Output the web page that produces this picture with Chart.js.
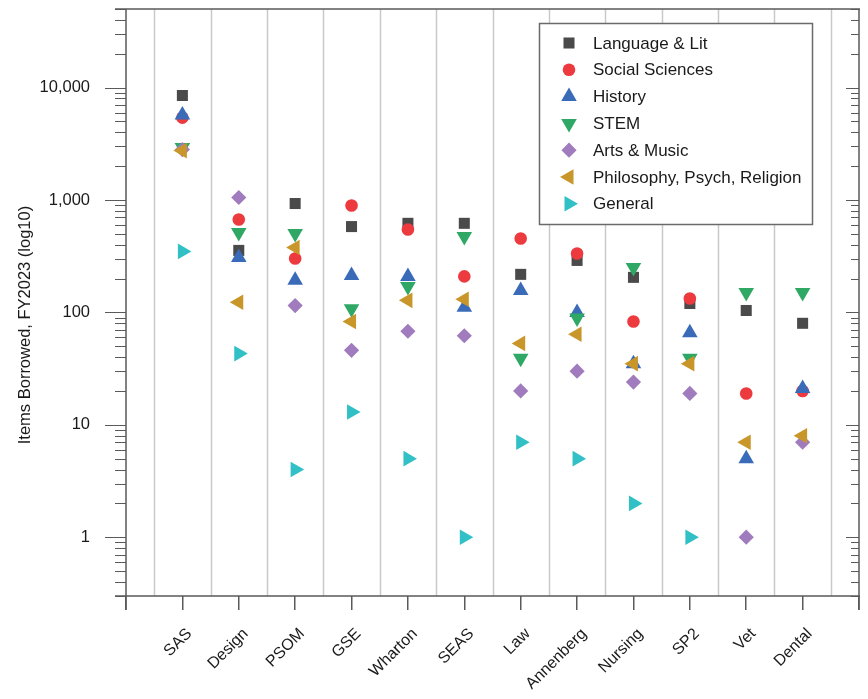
<!DOCTYPE html>
<html>
<head>
<meta charset="utf-8">
<title>Items Borrowed, FY2023</title>
<script src="https://cdn.jsdelivr.net/npm/chart.js@4.4.1/dist/chart.umd.min.js"></script>
<style>
    body { margin: 0; background: #fff; }
    #wrap { width: 868px; height: 699px; }
</style>
</head>
<body>
<div id="wrap"><canvas id="myChart" width="868" height="699"></canvas></div>
<script>
// schools along the x axis
var categories = ['SAS', 'Design', 'PSOM', 'GSE', 'Wharton', 'SEAS', 'Law', 'Annenberg', 'Nursing', 'SP2', 'Vet', 'Dental'];

// items borrowed per subject, one value per school (null = nothing plotted)
var langLit     = [8500, 356, 930, 580, 620, 620, 218, 290, 205, 120, 104, 80];
var socialSci   = [5400, 670, 302, 894, 547, 209, 455, 334, 83, 133, 19, 20];
var historyVals = [5700, 308, 193, 213, 209, 111, 157, 100, 35, 66, 5, 21];
var stem        = [2930, 514, 504, 108, 170, 474, 39, 89, 251, 39, 150, 150];
var artsMusic   = [2810, 1052, 115, 46, 68, 62, 20, 30, 24, 19, 1, 7];
var philosophy  = [2750, 123, 378, 83, 128, 131, 53, 64, 35, 35, 7, 8];
var general     = [349, 43, 4, 13, 5, 1, 7, 5, 2, 1, null, null];

// y axis labelled ticks
var yMajorTicks = [1, 10, 100, 1000, 10000];
var yTickLabels = ['1', '10', '100', '1,000', '10,000'];

var FONT = 'Arial, "Liberation Sans", sans-serif';
var AXIS_COLOR = '#5a5a5a';

var series = [
    { label: 'Language & Lit', data: langLit, color: '#4a4a4a', style: 'rect', radius: 7.8, rotation: 0 },
    { label: 'Social Sciences', data: socialSci, color: '#ec3a3f', style: 'circle', radius: 6.3, rotation: 0 },
    { label: 'History', data: historyVals, color: '#3a6bb8', style: 'triangle', radius: 9, rotation: 0 },
    { label: 'STEM', data: stem, color: '#2fa866', style: 'triangle', radius: 9, rotation: 180 },
    { label: 'Arts & Music', data: artsMusic, color: '#a07cbe', style: 'rectRot', radius: 7.6, rotation: 0 },
    { label: 'Philosophy, Psych, Religion', data: philosophy, color: '#c9962a', style: 'triangle', radius: 9, rotation: -90 },
    { label: 'General', data: general, color: '#30c0c5', style: 'triangle', radius: 9, rotation: 90 }
];

var datasets = series.map(function(s, k) {
    var pts = [];
    s.data.forEach(function(v, i) {
        if (v !== null) pts.push({ x: i + 1, y: v });
    });
    return {
        label: s.label,
        data: pts,
        order: series.length - k, // later series drawn on top
        pointStyle: s.style,
        pointRadius: s.radius,
        pointRotation: s.rotation,
        pointBackgroundColor: s.color,
        pointBorderWidth: 0,
        showLine: false
    };
});

// frame, mirrored ticks, in-between grid lines, y title and legend
var framePlugin = {
    id: 'frame',
    beforeDatasetsDraw: function(chart) {
        var ctx = chart.ctx, a = chart.chartArea;
        var x = chart.scales.x, y = chart.scales.y;
        ctx.save();

        // vertical separators between schools
        ctx.strokeStyle = '#c9c9c9';
        ctx.lineWidth = 1.5;
        for (var i = 0; i <= categories.length; i++) {
            var px = Math.round(x.getPixelForValue(i + 0.5)) + 0.5;
            ctx.beginPath();
            ctx.moveTo(px, a.top);
            ctx.lineTo(px, a.bottom);
            ctx.stroke();
        }

        // box
        ctx.strokeStyle = AXIS_COLOR;
        ctx.lineWidth = 1.5;
        ctx.beginPath();
        ctx.moveTo(a.left - 11, a.top); ctx.lineTo(a.right + 1, a.top);
        ctx.moveTo(a.left - 11, a.bottom); ctx.lineTo(a.right + 1, a.bottom);
        ctx.moveTo(a.left, a.top); ctx.lineTo(a.left, a.bottom + 14);
        ctx.moveTo(a.right, a.top); ctx.lineTo(a.right, a.bottom + 14);
        ctx.stroke();

        // log ticks, outward on the left, inward on the right
        ctx.lineWidth = 1.2;
        for (var e = -1; e <= 4; e++) {
            for (var m = 1; m <= 9; m++) {
                var v = m * Math.pow(10, e);
                if (v < y.min - 1e-9 || v > y.max + 1e-9) continue;
                var py = Math.round(y.getPixelForValue(v)) + 0.5;
                var major = m === 1;
                ctx.beginPath();
                ctx.moveTo(a.left - (major ? 21 : 11), py);
                ctx.lineTo(a.left, py);
                ctx.moveTo(a.right - (major ? 13 : 8), py);
                ctx.lineTo(a.right, py);
                ctx.stroke();
            }
        }

        // y axis title
        ctx.fillStyle = '#1a1a1a';
        ctx.font = '16.5px ' + FONT;
        ctx.textAlign = 'center';
        ctx.textBaseline = 'middle';
        ctx.translate(25, 325);
        ctx.rotate(-Math.PI / 2);
        ctx.fillText('Items Borrowed, FY2023 (log10)', 0, 0);
        ctx.restore();
    },
    afterDatasetsDraw: function(chart) {
        var ctx = chart.ctx;
        var lx = 539, ly = 23, lw = 273, lh = 201;
        ctx.save();
        ctx.fillStyle = '#fff';
        ctx.fillRect(lx, ly, lw, lh);
        ctx.strokeStyle = '#6a6a6a';
        ctx.lineWidth = 1.5;
        ctx.strokeRect(lx + 0.5, ly + 0.5, lw, lh);

        ctx.font = '17px ' + FONT;
        ctx.textAlign = 'left';
        ctx.textBaseline = 'middle';
        series.forEach(function(s, i) {
            var cy = ly + 20 + i * 26.8;
            ctx.fillStyle = s.color;
            Chart.helpers.drawPoint(ctx, {
                pointStyle: s.style, radius: s.radius, rotation: s.rotation, borderWidth: 0
            }, lx + 30, cy);
            ctx.fillStyle = '#1a1a1a';
            ctx.fillText(s.label, lx + 54, cy + 1);
        });
        ctx.restore();
    }
};

var ctx = document.getElementById('myChart').getContext('2d');
var chart = new Chart(ctx, {
    type: 'scatter',
    data: { datasets: datasets },
    plugins: [framePlugin],
    options: {
        responsive: false,
        animation: false,
        events: [],
        layout: { padding: { top: 9, right: 7, left: 0, bottom: 0 } },
        plugins: {
            legend: { display: false },
            tooltip: { enabled: false }
        },
        scales: {
            x: {
                type: 'linear',
                min: 0,
                max: categories.length + 1,
                afterBuildTicks: function(s) {
                    var t = [];
                    for (var i = 0; i <= categories.length + 1; i++) t.push({ value: i });
                    s.ticks = t;
                },
                afterFit: function(s) {
                    s.height = 103;
                    s.paddingLeft = 0;
                    s.paddingRight = 0;
                },
                ticks: {
                    autoSkip: false,
                    minRotation: 45,
                    maxRotation: 45,
                    padding: 21,
                    labelOffset: 7,
                    color: '#1a1a1a',
                    // tiny lineHeight keeps the rotated label's end right on its anchor
                    font: { family: FONT, size: 16, lineHeight: 0.05 },
                    callback: function(v) { return categories[v - 1] || ''; }
                },
                grid: { drawOnChartArea: false, drawTicks: true, tickLength: 14, color: AXIS_COLOR, lineWidth: 1.5 },
                border: { display: false }
            },
            y: {
                type: 'logarithmic',
                min: 0.3,
                max: 50000,
                afterBuildTicks: function(s) {
                    s.ticks = yMajorTicks.map(function(v) { return { value: v, major: true }; });
                },
                afterFit: function(s) {
                    s.width = 126;
                    s.paddingTop = 0;
                    s.paddingBottom = 0;
                },
                ticks: {
                    padding: 36,
                    color: '#1a1a1a',
                    font: { family: FONT, size: 16.5 },
                    callback: function(v) {
                        var k = yMajorTicks.indexOf(v);
                        return k >= 0 ? yTickLabels[k] : '';
                    }
                },
                grid: { display: false, drawTicks: false },
                border: { display: false }
            }
        }
    }
});
</script>
</body>
</html>
